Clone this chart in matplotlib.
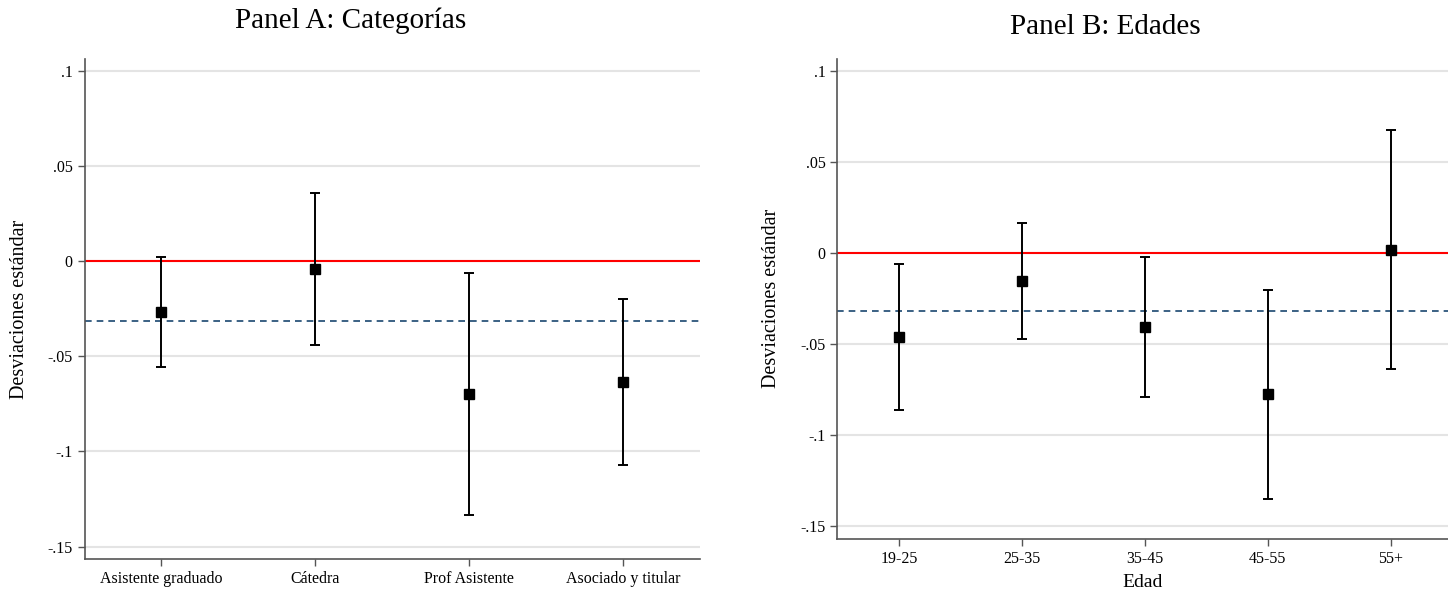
import numpy as np
import matplotlib
matplotlib.use("Agg")
import matplotlib.pyplot as plt

plt.rcParams['font.family'] = ['Liberation Serif', 'DejaVu Serif']

# Panel A: categorias
cat_labels = ["Asistente graduado", "Cátedra", "Prof Asistente", "Asociado y titular"]
cat_coef = [-0.0265, -0.0040, -0.0699, -0.0637]
cat_lo = [-0.0554, -0.0438, -0.1333, -0.1072]
cat_hi = [0.0022, 0.0360, -0.0060, -0.0201]
cat_mean = -0.0315

# Panel B: edades
age_labels = ["19-25", "25-35", "35-45", "45-55", "55+"]
age_coef = [-0.0461, -0.0152, -0.0405, -0.0775, 0.0017]
age_lo = [-0.0862, -0.0472, -0.0792, -0.1349, -0.0634]
age_hi = [-0.0058, 0.0166, -0.0021, -0.0204, 0.0677]
age_mean = -0.0316

yticks = [0.1, 0.05, 0, -0.05, -0.1, -0.15]
ytick_labels = [".1", ".05", "0", "-.05", "-.1", "-.15"]


def draw_panel(ax, labels, coef, lo, hi, mean, xmax, ylim, ylab_x):
    x = np.arange(1, len(labels) + 1)
    coef = np.array(coef)
    err = [coef - np.array(lo), np.array(hi) - coef]
    for y in yticks:
        ax.axhline(y, color="#e4e4e4", lw=1.5, zorder=0)
    ax.axhline(0, color="#ff0000", lw=1.5, zorder=1)
    ax.axhline(mean, color="#1a476f", lw=1.2, ls=(0, (4, 3)), zorder=1)
    ax.errorbar(x, coef, yerr=err, fmt="s", color="black", ms=6.5,
                ecolor="black", elinewidth=1.4, capsize=3.6, capthick=1.4, zorder=3)
    ax.set_xlim(0.5, xmax)
    ax.set_ylim(*ylim)
    ax.set_xticks(x)
    ax.set_xticklabels(labels, fontsize=11.5)
    ax.set_yticks(yticks)
    ax.set_yticklabels(ytick_labels, fontsize=11.5)
    ax.spines["top"].set_visible(False)
    ax.spines["right"].set_visible(False)
    for s in ["left", "bottom"]:
        ax.spines[s].set_color("#555555")
        ax.spines[s].set_linewidth(1.2)
    ax.tick_params(direction="out", length=5, width=1, color="#555555")
    ax.set_ylabel("Desviaciones estándar", fontsize=14.5)
    ax.yaxis.set_label_coords(ylab_x, 0.5)


fig = plt.figure(figsize=(14.48, 5.92), dpi=100)
ax1 = fig.add_axes([0.0584, 0.0557, 0.425, 0.8446])
ax2 = fig.add_axes([0.5783, 0.0895, 0.4217, 0.8113])

draw_panel(ax1, cat_labels, cat_coef, cat_lo, cat_hi, cat_mean, 4.5, (-0.1565, 0.1062), -0.0903)
draw_panel(ax2, age_labels, age_coef, age_lo, age_hi, age_mean, 5.465, (-0.1569, 0.1066), -0.093)
ax2.set_xlabel("Edad", fontsize=14)
ax2.xaxis.set_label_coords(0.5, -0.0729)

fig.text(351 / 1448, 1 - 21 / 592, "Panel A: Categorías", fontsize=21, ha="center", va="center")
fig.text(1105 / 1448, 1 - 26.5 / 592, "Panel B: Edades", fontsize=21, ha="center", va="center")

fig.savefig("out.png", dpi=100, facecolor="white")
